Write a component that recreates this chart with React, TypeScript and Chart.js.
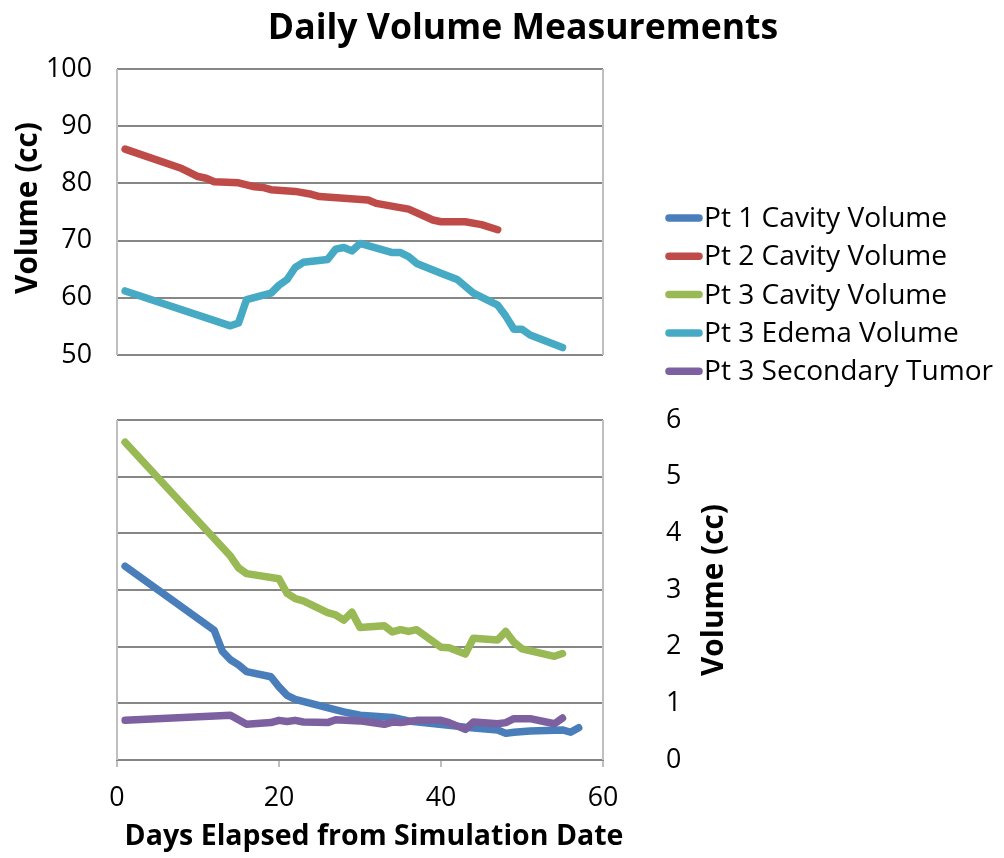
import React, { useEffect, useRef } from "react";
import { Chart, registerables } from "chart.js";

Chart.register(...registerables);

const FONT = "'Open Sans', Lato, sans-serif";

const titleText = "Daily Volume Measurements";
const yTitleText = "Volume (cc)";
const xTitleText = "Days Elapsed from Simulation Date";

// Pt 1 Cavity Volume (bottom panel)
const pt1Days = [1, 12, 13, 14, 15, 16, 19, 20, 21, 22, 28, 30, 34, 36, 43, 47, 48, 49, 51, 55, 56, 57];
const pt1Vol = [3.42, 2.29, 1.92, 1.77, 1.68, 1.56, 1.47, 1.29, 1.14, 1.07, 0.85, 0.79, 0.75, 0.69, 0.58, 0.53, 0.47, 0.49, 0.51, 0.53, 0.49, 0.57];

// Pt 2 Cavity Volume (top panel)
const pt2Days = [1, 8, 10, 11, 12, 15, 17, 18, 19, 22, 24, 25, 31, 32, 36, 39, 40, 43, 45, 47];
const pt2Vol = [86.0, 82.6, 81.2, 80.9, 80.3, 80.1, 79.4, 79.3, 78.9, 78.6, 78.1, 77.7, 77.1, 76.5, 75.5, 73.6, 73.3, 73.3, 72.8, 71.9];

// Pt 3 Cavity Volume (bottom panel)
const pt3CavDays = [1, 14, 15, 16, 20, 21, 22, 23, 26, 27, 28, 29, 30, 33, 34, 35, 36, 37, 40, 41, 43, 44, 47, 48, 49, 50, 54, 55];
const pt3CavVol = [5.61, 3.6, 3.39, 3.29, 3.2, 2.94, 2.85, 2.81, 2.6, 2.56, 2.47, 2.61, 2.34, 2.37, 2.26, 2.3, 2.27, 2.3, 1.99, 1.98, 1.87, 2.15, 2.12, 2.27, 2.08, 1.96, 1.83, 1.88];

// Pt 3 Edema Volume (top panel)
const pt3EdemaDays = [1, 14, 15, 16, 19, 20, 21, 22, 23, 26, 27, 28, 29, 30, 34, 35, 36, 37, 40, 42, 44, 47, 48, 49, 50, 51, 55];
const pt3EdemaVol = [61.2, 55.1, 55.6, 59.7, 60.8, 62.2, 63.2, 65.3, 66.2, 66.7, 68.5, 68.8, 68.2, 69.5, 67.9, 67.9, 67.2, 66.0, 64.3, 63.2, 60.8, 58.7, 56.8, 54.5, 54.5, 53.5, 51.3];

// Pt 3 Secondary Tumor (bottom panel)
const pt3TumorDays = [1, 14, 16, 19, 20, 21, 22, 23, 26, 27, 30, 33, 34, 35, 37, 40, 41, 43, 44, 47, 48, 49, 51, 54, 55];
const pt3TumorVol = [0.7, 0.79, 0.63, 0.66, 0.7, 0.68, 0.7, 0.67, 0.66, 0.71, 0.69, 0.63, 0.67, 0.66, 0.7, 0.7, 0.66, 0.54, 0.67, 0.64, 0.66, 0.73, 0.73, 0.64, 0.74];

const seriesNames = ["Pt 1 Cavity Volume", "Pt 2 Cavity Volume", "Pt 3 Cavity Volume", "Pt 3 Edema Volume", "Pt 3 Secondary Tumor"];
const seriesColors = ["#4a7ebb", "#be4b48", "#98b954", "#46aac5", "#7d60a0"];

const topTicks = { min: 50, max: 100, step: 10 };
const bottomTicks = { min: 0, max: 6, step: 1 };
const xTicks = { min: 0, max: 60, step: 20 };

const GRID = "#868686";
const FRAME = "#bfbfbf";
const LINE_W = 7.5;

const toXY = (xs: number[], ys: number[]) => xs.map((x, i) => ({ x, y: ys[i] }));

const lineDs = (idx: number, xs: number[], ys: number[]) => ({
  label: seriesNames[idx],
  data: toXY(xs, ys),
  borderColor: seriesColors[idx],
  backgroundColor: seriesColors[idx],
  borderWidth: LINE_W,
  pointRadius: 0,
  pointHoverRadius: 0,
  borderCapStyle: "round" as const,
  borderJoinStyle: "round" as const,
  tension: 0,
  fill: false,
});

// font size that makes `text` as wide as the reference text
function fitSize(text: string, weight: string, target: number) {
  const c = document.createElement("canvas").getContext("2d")!;
  c.font = `${weight} 100px ${FONT}`;
  const w = c.measureText(text).width;
  return Math.round(((100 * target) / w) * 10) / 10;
}

const framePlugin = {
  id: "frameSides",
  beforeDatasetsDraw(chart: any) {
    const { ctx, chartArea } = chart;
    ctx.save();
    ctx.strokeStyle = FRAME;
    ctx.lineWidth = 2;
    ctx.beginPath();
    ctx.moveTo(chartArea.left, chartArea.top);
    ctx.lineTo(chartArea.left, chartArea.bottom);
    ctx.moveTo(chartArea.right, chartArea.top);
    ctx.lineTo(chartArea.right, chartArea.bottom);
    ctx.stroke();
    ctx.restore();
  },
};

function drawRotated(ctx: CanvasRenderingContext2D, text: string, x: number, y: number) {
  ctx.save();
  ctx.translate(x, y);
  ctx.rotate(-Math.PI / 2);
  ctx.fillText(text, 0, 0);
  ctx.restore();
}

export default function App() {
  const topRef = useRef<HTMLCanvasElement | null>(null);
  const botRef = useRef<HTMLCanvasElement | null>(null);

  useEffect(() => {
    const tickSize = fitSize("100", "normal", 46);
    const titleSize = fitSize(titleText, "bold", 510);
    const legendSize = fitSize(seriesNames[0], "normal", 243);
    const xTitleSize = fitSize(xTitleText, "bold", 498);
    const yTitleSize = fitSize(yTitleText, "bold", 172);
    const tickFont = { family: FONT, size: tickSize };

    const topTextPlugin = {
      id: "topText",
      afterDraw(chart: any) {
        const { ctx, chartArea } = chart;
        ctx.save();
        ctx.fillStyle = "#000";
        ctx.textAlign = "center";
        ctx.textBaseline = "middle";
        ctx.font = `bold ${titleSize}px ${FONT}`;
        ctx.fillText(titleText, 523, 29);
        ctx.font = `bold ${yTitleSize}px ${FONT}`;
        drawRotated(ctx, yTitleText, 29, (chartArea.top + chartArea.bottom) / 2 - 4);
        // legend
        const legendX = 666;
        const legendY0 = 218;
        const legendStep = 38.3;
        ctx.font = `${legendSize}px ${FONT}`;
        ctx.textAlign = "left";
        seriesNames.forEach((name, i) => {
          const y = legendY0 + i * legendStep;
          ctx.strokeStyle = seriesColors[i];
          ctx.lineWidth = LINE_W;
          ctx.lineCap = "round";
          ctx.beginPath();
          ctx.moveTo(legendX + 3, y);
          ctx.lineTo(legendX + 33, y);
          ctx.stroke();
          ctx.fillStyle = "#000";
          ctx.fillText(name, legendX + 38, y + 1);
        });
        ctx.restore();
      },
    };

    const bottomTextPlugin = {
      id: "bottomText",
      afterDraw(chart: any) {
        const { ctx, chartArea } = chart;
        ctx.save();
        ctx.fillStyle = "#000";
        ctx.textAlign = "center";
        ctx.textBaseline = "middle";
        ctx.font = `bold ${xTitleSize}px ${FONT}`;
        ctx.fillText(xTitleText, 374, 437);
        ctx.font = `bold ${yTitleSize}px ${FONT}`;
        drawRotated(ctx, yTitleText, 715, (chartArea.top + chartArea.bottom) / 2);
        ctx.restore();
      },
    };

    const top = new Chart(topRef.current!, {
      type: "line",
      data: {
        datasets: [lineDs(1, pt2Days, pt2Vol), lineDs(3, pt3EdemaDays, pt3EdemaVol)],
      },
      options: {
        responsive: false,
        animation: false,
        events: [],
        layout: { padding: { top: 69, right: 401, bottom: 45, left: 0 } },
        plugins: { legend: { display: false }, title: { display: false }, tooltip: { enabled: false } },
        scales: {
          x: { type: "linear", min: xTicks.min, max: xTicks.max, display: false },
          y: {
            type: "linear",
            min: topTicks.min,
            max: topTicks.max,
            ticks: { stepSize: topTicks.step, padding: 4, font: tickFont, color: "#000" },
            grid: { color: GRID, lineWidth: 2, drawTicks: true, tickLength: 21, tickColor: "rgba(0,0,0,0)" },
            border: { display: false },
            afterFit: (s: any) => {
              s.width = 117;
            },
          },
        },
      } as any,
      plugins: [framePlugin, topTextPlugin],
    });

    const bottom = new Chart(botRef.current!, {
      type: "line",
      data: {
        datasets: [
          lineDs(4, pt3TumorDays, pt3TumorVol),
          lineDs(2, pt3CavDays, pt3CavVol),
          lineDs(0, pt1Days, pt1Vol),
        ],
      },
      options: {
        responsive: false,
        animation: false,
        events: [],
        layout: { padding: { top: 18, right: 261, bottom: 0, left: 117 } },
        plugins: { legend: { display: false }, title: { display: false }, tooltip: { enabled: false } },
        scales: {
          x: {
            type: "linear",
            min: xTicks.min,
            max: xTicks.max,
            ticks: { stepSize: xTicks.step, padding: 15, font: tickFont, color: "#000" },
            grid: { drawOnChartArea: false, drawTicks: true, tickLength: 7, color: FRAME, lineWidth: 2 },
            border: { display: true, color: GRID, width: 2 },
            afterFit: (s: any) => {
              s.height = 98;
            },
          },
          y: {
            type: "linear",
            position: "right",
            min: bottomTicks.min,
            max: bottomTicks.max,
            ticks: { stepSize: bottomTicks.step, padding: 4, font: tickFont, color: "#000" },
            grid: { color: GRID, lineWidth: 2, drawTicks: true, tickLength: 59, tickColor: "rgba(0,0,0,0)" },
            border: { display: false },
            afterFit: (s: any) => {
              s.width = 140;
            },
          },
        },
      } as any,
      plugins: [framePlugin, bottomTextPlugin],
    });

    return () => {
      top.destroy();
      bottom.destroy();
    };
  }, []);

  return (
    <div style={{ position: "absolute", left: 0, top: 0, width: 1004, height: 858, background: "#fff" }}>
      <canvas ref={topRef} width={1004} height={400} style={{ position: "absolute", left: 0, top: 0, width: 1004, height: 400 }} />
      <canvas ref={botRef} width={1004} height={458} style={{ position: "absolute", left: 0, top: 400, width: 1004, height: 458 }} />
    </div>
  );
}
